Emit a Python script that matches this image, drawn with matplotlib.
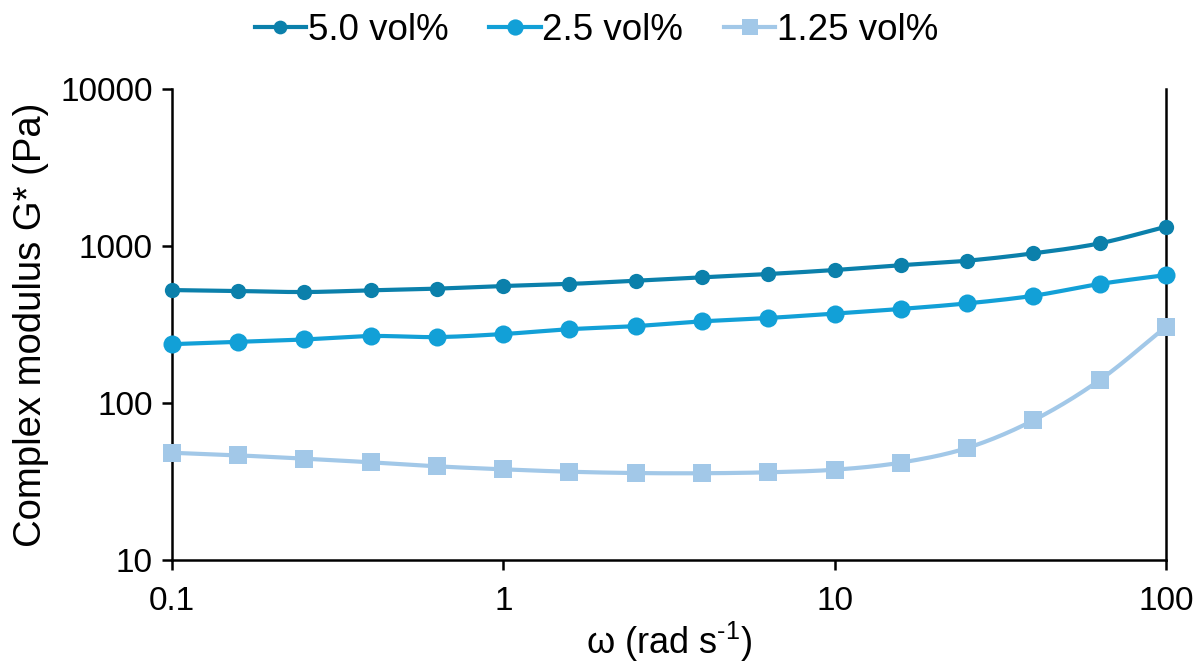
import numpy as np
import matplotlib
matplotlib.use("Agg")
import matplotlib.pyplot as plt
from matplotlib.ticker import FixedLocator, FixedFormatter, NullLocator

plt.rcParams['font.family'] = ['Liberation Sans', 'DejaVu Sans']
plt.rcParams['mathtext.default'] = 'regular'

# Angular frequency (rad/s)
omega = [0.1, 0.158, 0.251, 0.398, 0.631, 1.0, 1.58, 2.51, 3.98, 6.31,
         10.0, 15.8, 25.1, 39.8, 63.1, 100.0]

# Complex modulus G* (Pa) for each volume fraction
g_50 = [524, 517, 509, 522, 535, 556, 573, 601, 632, 663,
        703, 754, 806, 898, 1040, 1327]
g_25 = [237, 245, 254, 267, 263, 275, 295, 309, 331, 348,
        371, 397, 431, 482, 573, 653]
g_125 = [48.2, 46.4, 44.2, 41.9, 39.5, 37.8, 36.5, 35.8, 35.7, 36.2,
         37.6, 41.7, 51.7, 77.6, 140, 306]

labels = ['5.0 vol%', '2.5 vol%', '1.25 vol%']
colors = ['#0b80ab', '#12a0d7', '#a2c8e8']
markers = ['o', 'o', 's']
msizes = [11, 13, 13]

x_ticks = [0.1, 1, 10, 100]
x_ticklabels = ['0.1', '1', '10', '100']
y_ticks = [10, 100, 1000, 10000]
y_ticklabels = ['10', '100', '1000', '10000']


def smooth(x, y, n=20):
    """Catmull-Rom spline through the points in log-log space."""
    lx, ly = np.log10(x), np.log10(y)
    px = np.concatenate([[2 * lx[0] - lx[1]], lx, [2 * lx[-1] - lx[-2]]])
    py = np.concatenate([[2 * ly[0] - ly[1]], ly, [2 * ly[-1] - ly[-2]]])
    ox, oy = [], []
    t = np.linspace(0, 1, n, endpoint=False)
    for i in range(1, len(px) - 2):
        for arr, out in ((px, ox), (py, oy)):
            p0, p1, p2, p3 = arr[i - 1], arr[i], arr[i + 1], arr[i + 2]
            out.extend(0.5 * ((2 * p1) + (-p0 + p2) * t
                              + (2 * p0 - 5 * p1 + 4 * p2 - p3) * t ** 2
                              + (-p0 + 3 * p1 - 3 * p2 + p3) * t ** 3))
    ox.append(lx[-1])
    oy.append(ly[-1])
    return 10 ** np.array(ox), 10 ** np.array(oy)


fig = plt.figure(figsize=(11.93, 6.67), dpi=100)
ax = fig.add_axes([0.1442, 0.1604, 0.8332, 0.7062])

handles = []
for ys, lab, c, m, ms in zip([g_50, g_25, g_125], labels, colors, markers, msizes):
    sx, sy = smooth(np.array(omega), np.array(ys))
    ax.plot(sx, sy, color=c, lw=3.0, solid_capstyle='round', zorder=2, clip_on=False)
    ax.plot(omega, ys, linestyle='none', marker=m, ms=ms, color=c,
            markeredgewidth=0, zorder=3, clip_on=False)
    handles.append(plt.Line2D([], [], color=c, lw=3.0, marker=m, ms=ms * 0.9,
                              markeredgewidth=0, label=lab))

ax.set_xscale('log')
ax.set_yscale('log')
ax.set_xlim(0.1, 100)
ax.set_ylim(10, 10000)
ax.xaxis.set_major_locator(FixedLocator(x_ticks))
ax.xaxis.set_major_formatter(FixedFormatter(x_ticklabels))
ax.yaxis.set_major_locator(FixedLocator(y_ticks))
ax.yaxis.set_major_formatter(FixedFormatter(y_ticklabels))
ax.xaxis.set_minor_locator(NullLocator())
ax.yaxis.set_minor_locator(NullLocator())

for s in ['left', 'bottom', 'right']:
    ax.spines[s].set_linewidth(1.8)
    ax.spines[s].set_color('black')
ax.spines['top'].set_visible(False)

ax.tick_params(axis='both', which='major', direction='out', length=7, width=1.8,
               labelsize=24, colors='black', pad=7)
ax.tick_params(axis='x', pad=12)
ax.tick_params(axis='y', right=False)

ax.set_xlabel('ω (rad s$^{\u2010 1}$)', fontsize=26, labelpad=2)
ax.set_ylabel('Complex modulus G* (Pa)', fontsize=27.5, labelpad=8)

fig.legend(handles=handles, loc='upper center', bbox_to_anchor=(0.5, 1.03),
           ncol=3, frameon=False, fontsize=26.5, handlelength=1.4,
           handletextpad=0.05, columnspacing=1.1)

fig.savefig('out.png', dpi=100)
